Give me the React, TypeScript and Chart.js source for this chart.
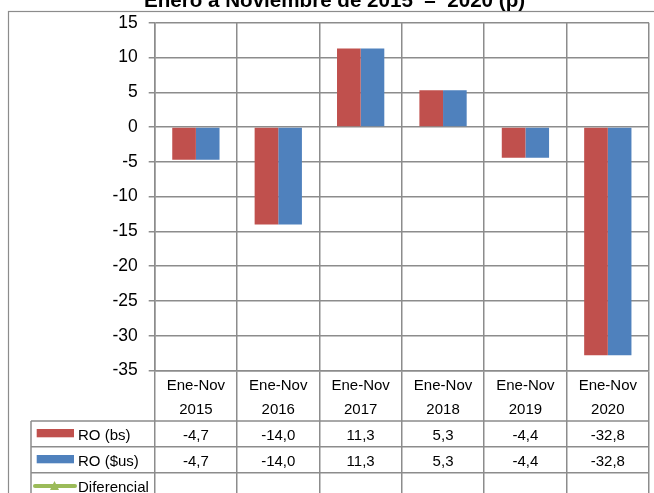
import React, { useEffect, useRef } from "react";
import { Chart, registerables } from "chart.js";

Chart.register(...registerables);

// ---- data ----
const categoryTop: string[] = ["Ene-Nov", "Ene-Nov", "Ene-Nov", "Ene-Nov", "Ene-Nov", "Ene-Nov"];
const categoryYears: string[] = ["2015", "2016", "2017", "2018", "2019", "2020"];
const roBs: number[] = [-4.7, -14.0, 11.3, 5.3, -4.4, -32.8];
const roUsd: number[] = [-4.7, -14.0, 11.3, 5.3, -4.4, -32.8];
const diferencial: (number | null)[] = [null, null, null, null, null, null];
const seriesNames: string[] = ["RO (bs)", "RO ($us)", "Diferencial"];
const yTicks: number[] = [-35, -30, -25, -20, -15, -10, -5, 0, 5, 10, 15];
const titleText = "Enero a Noviembre de 2015  –  2020 (p)";

const RED = "#C0504D";
const BLUE = "#4F81BD";
const GREEN = "#9BBB59";
const GRID = "#8c8c8c";
const FONT = "'Liberation Sans', Arial, sans-serif";

const fmt = (v: number | null) => (v === null ? "" : v.toFixed(1).replace(".", ","));

const tablePlugin = {
  id: "tablePlugin",
  afterDraw(chart: any) {
    const ctx = chart.ctx as CanvasRenderingContext2D;
    const x = chart.scales.x;
    const area = chart.chartArea;
    ctx.save();
    // outer border
    ctx.strokeStyle = GRID;
    ctx.lineWidth = 1.2;
    ctx.strokeRect(8.5, 11.5, 700, 600);
    // title
    ctx.fillStyle = "#000";
    ctx.font = `bold 20.6px ${FONT}`;
    ctx.textAlign = "center";
    ctx.textBaseline = "alphabetic";
    ctx.fillText(titleText, 334.5, 6.6);

    // table lines
    const tableLeft = 31;
    const rowLines = [421, 446.7, 472.7];
    ctx.strokeStyle = GRID;
    ctx.lineWidth = 1.5;
    ctx.beginPath();
    rowLines.forEach((y) => {
      ctx.moveTo(tableLeft, y);
      ctx.lineTo(area.right, y);
    });
    ctx.moveTo(tableLeft, rowLines[0]);
    ctx.lineTo(tableLeft, 500);
    ctx.stroke();

    // header labels
    ctx.font = `15px ${FONT}`;
    ctx.fillStyle = "#000";
    ctx.textAlign = "center";
    categoryYears.forEach((yr, i) => {
      const cx = x.getPixelForValue(i);
      ctx.fillText(categoryTop[i], cx, 390);
      ctx.fillText(yr, cx, 414.3);
    });

    // rows
    const rowBase = [440, 466, 491.7];
    const rowData = [roBs, roUsd, diferencial];
    const colors = [RED, BLUE, GREEN];
    rowData.forEach((arr, r) => {
      arr.forEach((v, i) => {
        ctx.textAlign = "center";
        ctx.fillText(fmt(v), x.getPixelForValue(i), rowBase[r]);
      });
      // legend key
      const keyY = rowBase[r] - 6.8;
      ctx.fillStyle = colors[r];
      if (r < 2) {
        ctx.fillRect(36.7, keyY - 4.2, 37.3, 8.3);
      } else {
        ctx.strokeStyle = colors[r];
        ctx.lineWidth = 4;
        ctx.lineCap = "round";
        ctx.beginPath();
        ctx.moveTo(35, 486);
        ctx.lineTo(75, 486);
        ctx.stroke();
        ctx.beginPath();
        ctx.moveTo(54.5, 481);
        ctx.lineTo(59, 490);
        ctx.lineTo(50, 490);
        ctx.closePath();
        ctx.fill();
      }
      ctx.fillStyle = "#000";
      ctx.textAlign = "left";
      ctx.fillText(seriesNames[r], 78, rowBase[r]);
    });
    ctx.restore();
  },
};

export default function App() {
  const ref = useRef<HTMLCanvasElement>(null);
  useEffect(() => {
    if (!ref.current) return;
    const chart = new Chart(ref.current, {
      type: "bar",
      data: {
        labels: categoryYears.map((y, i) => `${categoryTop[i]} ${y}`),
        datasets: [
          {
            label: seriesNames[0],
            data: roBs,
            backgroundColor: RED,
            categoryPercentage: 0.574,
            barPercentage: 1,
          },
          {
            label: seriesNames[1],
            data: roUsd,
            backgroundColor: BLUE,
            categoryPercentage: 0.574,
            barPercentage: 1,
          },
          {
            type: "line",
            label: seriesNames[2],
            data: diferencial,
            borderColor: GREEN,
            backgroundColor: GREEN,
            pointStyle: "triangle",
          } as any,
        ],
      },
      options: {
        animation: false,
        responsive: false,
        devicePixelRatio: 1,
        layout: { padding: { left: 0, top: 22.7, right: 4, bottom: 0 } },
        plugins: {
          legend: { display: false },
          title: { display: false },
          tooltip: { enabled: false },
        },
        scales: {
          x: {
            grid: { offset: true, color: GRID, lineWidth: 1.5, drawTicks: true, tickLength: 125 },
            border: { color: GRID, width: 1.5 },
            ticks: { display: false },
            afterFit: (s: any) => {
              s.height = 122.5;
            },
          },
          y: {
            min: -35,
            max: 15,
            afterBuildTicks: (s: any) => {
              s.ticks = yTicks.map((v) => ({ value: v }));
            },
            ticks: { color: "#000", font: { size: 17.5, family: FONT }, padding: 11 },
            grid: { color: GRID, lineWidth: 1.5, tickLength: 6 },
            border: { color: GRID, width: 1.5 },
            afterFit: (s: any) => {
              s.width = 154.7;
            },
          },
        },
      },
      plugins: [tablePlugin],
    });
    return () => chart.destroy();
  }, []);
  return (
    <div style={{ position: "fixed", left: 0, top: 0, width: 654, height: 493, background: "#fff" }}>
      <canvas ref={ref} width={654} height={493} style={{ display: "block" }} />
    </div>
  );
}
